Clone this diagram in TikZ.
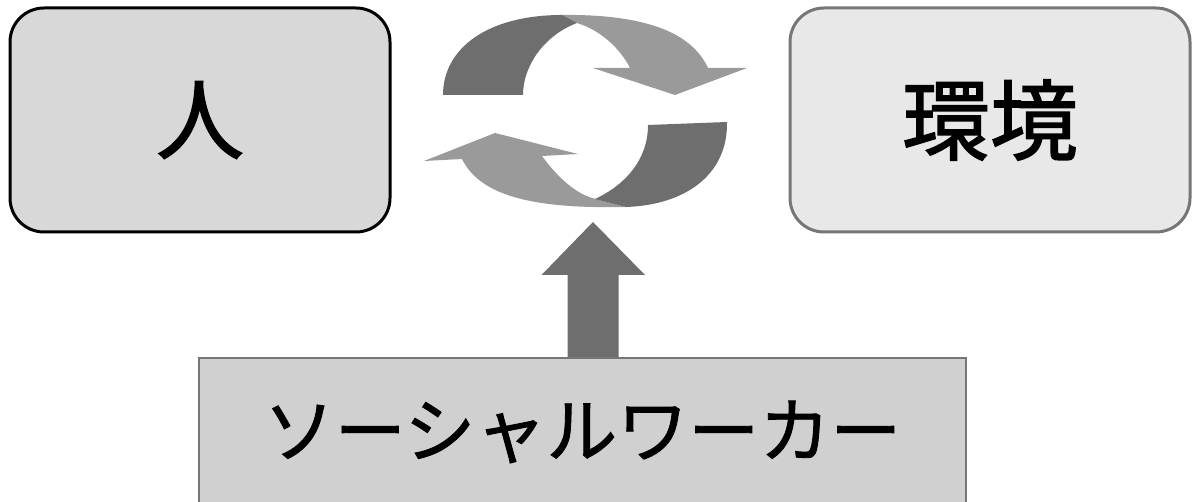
\documentclass[tikz,border=0pt]{standalone}
\usepackage{fontspec}
\newfontfamily\jp[FakeBold=1.6]{Noto Sans CJK JP}
\newfontfamily\jpk[FakeBold=1.2]{Noto Sans CJK JP}
\definecolor{boxA}{HTML}{D8D8D8}
\definecolor{boxB}{HTML}{E8E8E8}
\definecolor{boxC}{HTML}{D0D0D0}
\definecolor{edgeG}{HTML}{767676}
\definecolor{darkA}{HTML}{6E6E6E}
\definecolor{lightA}{HTML}{9A9A9A}
\begin{document}
\begin{tikzpicture}[x=1pt,y=-1pt,
  rbox/.style={draw, rounded corners=34pt, line width=3pt, inner sep=0pt, font=\jp\fontsize{88}{88}\selectfont},
  sbox/.style={draw=edgeG, fill=boxC, line width=2.5pt, inner sep=0pt, font=\jpk\fontsize{71}{71}\selectfont},
  darkpart/.style={fill=darkA, draw=none},
  lightpart/.style={fill=lightA, draw=none}]
\useasboundingbox (0,0) rectangle (1192,502);
\clip (0,0) rectangle (1192,502);
\fill[white] (0,0) rectangle (1192,502);

% boxes
\node[rbox, draw=black, fill=boxA, minimum width=380pt, minimum height=224pt] (person) at (200,120) {人};
\node[rbox, draw=edgeG, fill=boxB, minimum width=400pt, minimum height=224pt] (env) at (990,120) {環境};

% cycle arrows
\coordinate (cyc) at (585,112);
% upper arrow: light part
\path[lightpart] (556,15) -- (577,23) .. controls (600,30) and (620,48) .. (630,68)
  -- (593,68) -- (675,95) -- (747,68) -- (708,68)
  .. controls (695,40) and (660,13) .. (556,15) -- cycle;
% upper arrow: dark part
\path[darkpart] (443,95) .. controls (443,48) and (488,15) .. (562,15)
  -- (577,23) .. controls (545,35) and (523,65) .. (523,95) -- cycle;
% lower arrow: light part
\path[lightpart] (462,159) .. controls (480,195) and (530,209) .. (626,207)
  -- (596,199) .. controls (577,195) and (558,178) .. (542,156)
  -- (578,154) -- (495,133) -- (424,161) -- cycle;
% lower arrow: dark part
\path[darkpart] (648,125) -- (727,122) .. controls (728,175) and (685,205) .. (626,207)
  -- (595,199) .. controls (625,185) and (648,160) .. (648,125) -- cycle;

% social worker box and up arrow
\coordinate (upfoot) at (593,359);
\fill[darkA] (upfoot) ++(-25.5,1) -- ++(0,-85) -- ++(-26,0) -- (593,222) -- (645,275) -- (618.5,275) -- (618.5,360) -- cycle;
\node[sbox, minimum width=767pt, minimum height=148pt] (sw) at (582.5,432) {ソーシャルワーカー};
\end{tikzpicture}
\end{document}
